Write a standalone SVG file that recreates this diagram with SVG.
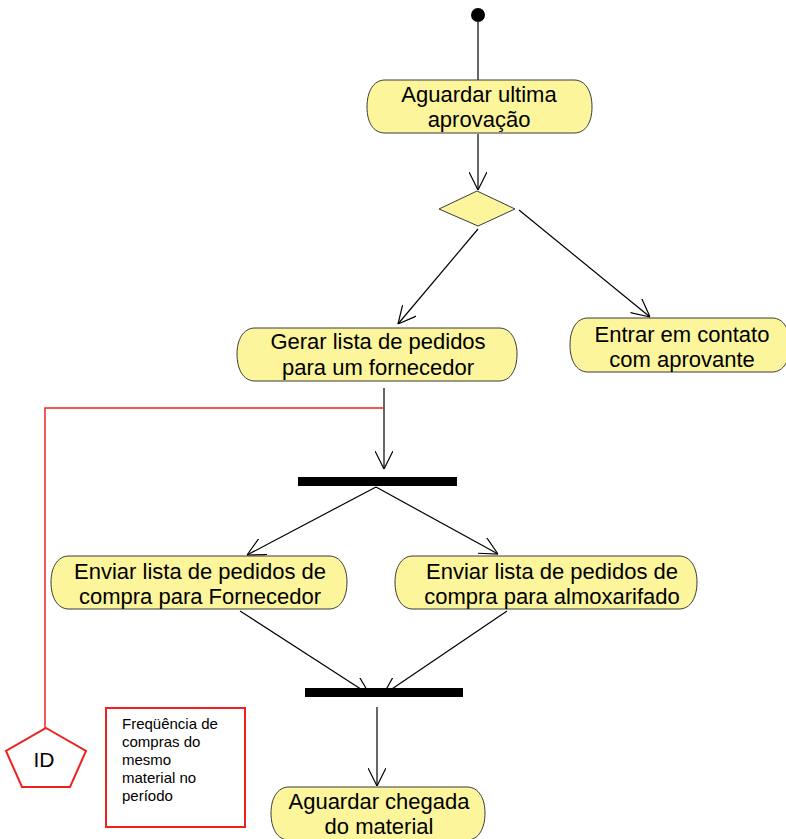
<svg xmlns="http://www.w3.org/2000/svg" width="786" height="839" viewBox="0 0 786 839">
  <style>
    .act { fill: #fcf59c; stroke: #3a3a3a; stroke-width: 1; }
    .lbl { font-family: "Liberation Sans", Arial, sans-serif; font-size: 22px; fill: #000; text-anchor: middle; }
    .flow { stroke: #000; stroke-width: 1.2; fill: none; marker-end: url(#open); }
    .bar { fill: #000; }
    .red { stroke: #f02020; stroke-width: 1.5; fill: none; }
    .note { font-family: "Liberation Sans", Arial, sans-serif; font-size: 15px; fill: #000; }
  </style>
  <defs>
    <marker id="open" viewBox="0 0 18 18" refX="18" refY="9" markerWidth="18" markerHeight="18" markerUnits="userSpaceOnUse" orient="auto">
      <path d="M0,0 L18,9 L0,18" fill="none" stroke="#000" stroke-width="1.2"/>
    </marker>
  </defs>

  <rect width="786" height="839" fill="#fff"/>

  <!-- control flows -->
  <g id="connectors">
    <line x1="478" y1="22" x2="478" y2="80" stroke="#000" stroke-width="1.2"/>
    <line class="flow" x1="478" y1="134" x2="478" y2="190"/>
    <line class="flow" x1="478" y1="229" x2="398" y2="324"/>
    <line class="flow" x1="519" y1="210" x2="650" y2="317"/>
    <line class="flow" x1="384" y1="388" x2="384" y2="469"/>
    <line class="flow" x1="376" y1="487" x2="247" y2="555"/>
    <line class="flow" x1="376" y1="487" x2="498" y2="554"/>
    <line class="flow" x1="240" y1="611" x2="370" y2="695"/>
    <line class="flow" x1="507" y1="611" x2="383" y2="695"/>
    <line class="flow" x1="377" y1="707" x2="377" y2="786"/>
    <!-- indicator link -->
    <polyline class="red" points="384,408 45,408 45,728"/>
  </g>

  <g id="start">
    <circle cx="478" cy="15" r="7" fill="#000"/>
  </g>

  <g id="aguardar-aprovacao">
    <path class="act" d="M385,80 H574 C586,80 592,92 592,107 C592,122 586,133 574,133 H385 C373,133 367,122 367,107 C367,92 373,80 385,80 Z"/>
    <text class="lbl" x="479" y="102">Aguardar ultima</text>
    <text class="lbl" x="479" y="127">aprovação</text>
  </g>

  <g id="decisao">
    <polygon class="act" points="477,191 515,209 478,226 439,209"/>
  </g>

  <g id="gerar-lista">
    <path class="act" d="M255,328 H499 C511,328 517,340 517,354 C517,369 511,381 499,381 H255 C243,381 237,369 237,354 C237,340 243,328 255,328 Z"/>
    <text class="lbl" x="378" y="349">Gerar lista de pedidos</text>
    <text class="lbl" x="378" y="375">para um fornecedor</text>
  </g>

  <g id="entrar-contato">
    <path class="act" d="M588,318 H772 C784,318 790,330 790,345 C790,360 784,372 772,372 H588 C576,372 570,360 570,345 C570,330 576,318 588,318 Z"/>
    <text class="lbl" x="682" y="342">Entrar em contato</text>
    <text class="lbl" x="682" y="367">com aprovante</text>
  </g>

  <g id="fork">
    <rect class="bar" x="298" y="477" width="159" height="9"/>
  </g>

  <g id="enviar-fornecedor">
    <path class="act" d="M69,556 H329 C341,556 347,568 347,582 C347,597 341,609 329,609 H69 C57,609 51,597 51,582 C51,568 57,556 69,556 Z"/>
    <text class="lbl" x="200" y="579">Enviar lista de pedidos de</text>
    <text class="lbl" x="200" y="604">compra para Fornecedor</text>
  </g>

  <g id="enviar-almoxarifado">
    <path class="act" d="M413,556 H679 C691,556 697,568 697,582 C697,597 691,609 679,609 H413 C401,609 395,597 395,582 C395,568 401,556 413,556 Z"/>
    <text class="lbl" x="552" y="579">Enviar lista de pedidos de</text>
    <text class="lbl" x="552" y="604">compra para almoxarifado</text>
  </g>

  <g id="join">
    <rect class="bar" x="305" y="688" width="158" height="9"/>
  </g>

  <g id="aguardar-material">
    <path class="act" d="M289,787 H467 C479,787 485,799 485,813 C485,828 479,840 467,840 H289 C277,840 271,828 271,813 C271,799 277,787 289,787 Z"/>
    <text class="lbl" x="379" y="809">Aguardar chegada</text>
    <text class="lbl" x="379" y="834">do material</text>
  </g>

  <g id="indicador-id">
    <polygon points="46,728 86,751 70,787 22,787 6,751" fill="#fff" stroke="#f02020" stroke-width="2"/>
    <text x="44" y="767" font-family="Liberation Sans, Arial, sans-serif" font-size="21" text-anchor="middle">ID</text>
  </g>

  <g id="descricao">
    <rect x="106" y="708" width="139" height="119" fill="#fff" stroke="#f02020" stroke-width="2"/>
    <text class="note" x="122" y="729">Freqüência de</text>
    <text class="note" x="122" y="747">compras do</text>
    <text class="note" x="122" y="765">mesmo</text>
    <text class="note" x="122" y="783">material no</text>
    <text class="note" x="122" y="801">período</text>
  </g>
</svg>
